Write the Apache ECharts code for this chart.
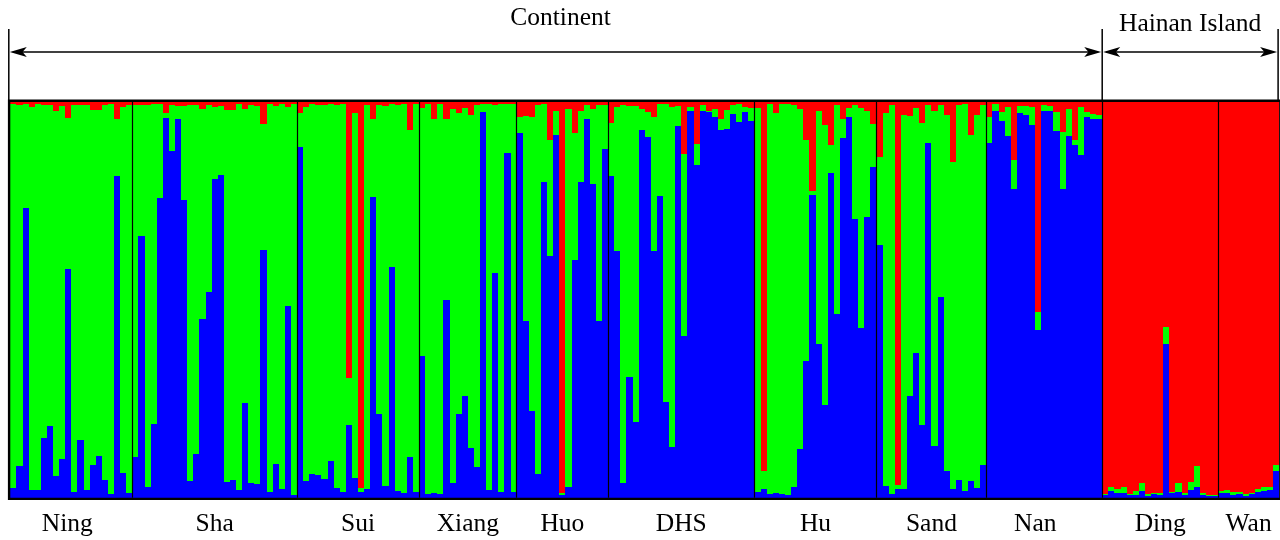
<!DOCTYPE html>
<html><head><meta charset="utf-8">
<script src="https://cdn.jsdelivr.net/npm/echarts@6/dist/echarts.min.js"></script>
<style>html,body{margin:0;padding:0;background:#fff}#c{width:1280px;height:540px}</style>
</head><body><div id="c"></div>
<script>
// ---------- DATA ----------
const populations = ['Ning','Sha','Sui','Xiang','Huo','DHS','Hu','Sand','Nan','Ding','Wan'];
const popSizes    = [20, 27, 20, 16, 15, 24, 20, 18, 19, 19, 10];
const regions     = ['Continent', 'Hainan Island'];
const regionPops  = [9, 2]; // number of populations in each region

// membership (%) in cluster 1 (blue), per individual
const blue = [
  2.5,8.0,73.1,1.9,1.9,15.1,18.1,5.5,9.7,57.7,1.4,14.7,1.9,8.2,10.5,4.5,0.9,81.3,6.3,1.3,
  10.4,66.1,2.8,18.6,75.7,96.0,87.5,95.7,75.2,4.2,11.1,45.2,52.0,80.5,81.5,4.0,4.5,1.9,23.9,3.7,3.5,62.6,1.4,8.5,2.2,48.4,0.7,
  88.6,4.2,6.0,5.7,4.7,9.3,2.4,1.4,18.4,5.1,1.4,2.1,76.0,21.1,2.9,58.3,1.7,1.2,10.3,1.4,
  35.8,0.9,1.2,0.9,50.0,3.7,21.1,25.7,12.6,7.8,97.5,1.9,56.8,1.4,87.1,1.4,
  92.2,44.7,21.9,6.0,79.8,61.1,91.7,0.7,2.8,60.1,79.8,95.7,79.3,44.7,88.1,
  81.3,62.3,3.7,30.5,19.1,92.9,91.2,62.3,76.2,24.2,12.8,93.9,40.9,97.7,84.1,97.7,97.5,96.2,92.9,93.2,97.0,94.9,97.5,95.2,
  1.4,2.1,0.9,1.2,0.9,0.7,2.7,12.3,34.5,76.5,38.8,23.4,82.1,46.4,90.9,96.2,70.4,42.9,70.9,83.6,
  63.9,2.9,0.9,2.2,2.2,25.7,36.6,18.4,89.6,13.1,50.7,6.7,2.2,4.5,1.7,4.2,2.4,8.3,
  89.6,97.7,95.2,91.4,78.0,97.2,96.7,94.2,42.4,97.7,97.7,92.7,78.0,91.4,89.1,86.6,96.2,95.7,95.7,
  0.8,1.7,1.2,1.2,0.7,0.7,1.7,0.4,0.9,0.7,38.8,1.2,1.4,0.7,1.9,2.7,0.7,0.4,0.5,
  1.2,1.2,0.7,0.9,0.4,0.9,1.4,1.7,1.9,6.7
];
// membership (%) in cluster 2 (green)
const green = [
  97.0,91.2,26.4,96.9,97.6,84.1,81.1,92.2,89.3,38.3,97.8,84.5,97.3,89.9,87.6,94.7,98.6,14.5,92.4,97.9,
  88.8,33.1,96.4,80.9,23.8,1.3,11.7,3.3,23.8,95.0,88.1,53.1,47.2,18.3,17.5,94.1,93.6,97.6,74.4,95.5,95.5,31.9,98.1,90.5,97.3,50.3,98.8,
  8.5,94.5,93.5,93.5,94.5,90.2,96.8,98.1,11.9,92.2,1.1,97.1,19.8,78.1,96.1,41.2,97.5,98.3,82.7,98.1,
  62.8,98.6,94.6,98.6,45.8,94.6,76.0,72.9,84.2,91.4,2.0,97.6,42.4,98.1,12.4,98.1,
  4.1,51.8,74.4,93.2,19.7,29.4,6.0,0.6,95.4,32.1,17.9,3.5,18.9,54.5,11.1,
  13.4,36.4,95.5,68.5,79.9,5.3,6.3,33.9,23.3,75.3,85.9,5.1,46.0,1.0,5.3,1.5,0.2,2.0,2.8,4.8,2.2,4.6,1.2,3.4,
  97.1,4.6,98.6,96.0,98.6,98.8,96.5,85.9,55.9,1.0,58.9,70.8,7.0,52.8,4.8,2.3,28.8,55.6,26.8,10.8,
  22.2,94.3,98.3,1.0,94.5,70.8,61.9,76.3,9.6,84.6,48.5,90.0,82.6,94.7,97.8,87.5,94.3,90.9,
  6.6,1.8,2.3,7.3,7.3,1.8,2.3,4.5,4.5,1.5,1.3,4.8,14.4,6.8,1.3,12.1,1.3,1.3,1.0,
  0.2,1.0,1.0,1.5,0.3,1.0,2.0,0.6,0.3,0.5,4.3,0.2,2.3,0.5,2.1,5.3,0.5,0.3,0.3,
  0.5,0.7,0.7,0.5,0.5,0.3,0.8,1.0,0.8,1.6
];
// membership (%) in cluster 3 (red)
const red = [
  0.5,0.8,0.5,1.2,0.5,0.8,0.8,2.3,1.0,4.0,0.8,0.8,0.8,1.9,1.9,0.8,0.5,4.2,1.3,0.8,
  0.8,0.8,0.8,0.5,0.5,2.7,0.8,1.0,1.0,0.8,0.8,1.7,0.8,1.2,1.0,1.9,1.9,0.5,1.7,0.8,1.0,5.5,0.5,1.0,0.5,1.3,0.5,
  2.9,1.3,0.5,0.8,0.8,0.5,0.8,0.5,69.7,2.7,97.5,0.8,4.2,0.8,1.0,0.5,0.8,0.5,7.0,0.5,
  1.4,0.5,4.2,0.5,4.2,1.7,2.9,1.4,3.2,0.8,0.5,0.5,0.8,0.5,0.5,0.5,
  3.7,3.5,3.7,0.8,0.5,9.5,2.3,98.7,1.8,7.8,2.3,0.8,1.8,0.8,0.8,
  5.3,1.3,0.8,1.0,1.0,1.8,2.5,3.8,0.5,0.5,1.3,1.0,13.1,1.3,10.6,0.8,2.3,1.8,4.3,2.0,0.8,0.5,1.3,1.4,
  1.5,93.3,0.5,2.8,0.5,0.5,0.8,1.8,9.6,22.5,2.3,5.8,10.9,0.8,4.3,1.5,0.8,1.5,2.3,5.6,
  13.9,2.8,0.8,96.8,3.3,3.5,1.5,5.3,0.8,2.3,0.8,3.3,15.2,0.8,0.5,8.3,3.3,0.8,
  3.8,0.5,2.5,1.3,14.7,1.0,1.0,1.3,53.1,0.8,1.0,2.5,7.6,1.8,9.6,1.3,2.5,3.0,3.3,
  99.0,97.3,97.8,97.3,99.0,98.3,96.3,99.0,98.8,98.8,56.9,98.6,96.3,98.8,96.0,92.0,98.8,99.3,99.2,
  98.3,98.1,98.6,98.6,99.1,98.8,97.8,97.3,97.3,91.7
];

// ---------- LAYOUT / STYLE ----------
(function () {
const FONT = '"Liberation Serif", "Times New Roman", serif';
const FS = 25.5;
const COLORS = ['#0000ff', '#00ff00', '#ff0000'];
const labelShift = {Ning: -4, Nan: -9};
const N = blue.length;
const individuals = blue.map((_, i) => 'ind' + (i + 1));
const starts = []; let acc = 0;
popSizes.forEach(s => { starts.push(acc); acc += s; });
const innerBounds = starts.slice(1);
const qData = blue.map((b, i) => [i, b, green[i], red[i]]);
const snap = v => Math.round(Math.round(v * 100) / 100);

// stacked membership bars, edges snapped to whole pixels (no seams)
function renderItem(params, api) {
  const i = api.value(0);
  const vals = [api.value(1), api.value(2), api.value(3)];
  const base = api.coord([i, 0]);
  const bw = api.size([1, 0])[0];
  const xl = snap(base[0] - bw / 2), xr = snap(base[0] + bw / 2);
  let cum = 0, yPrev = snap(base[1]);
  const children = [];
  vals.forEach((v, k) => {
    cum += v;
    const y = snap(api.coord([i, cum])[1]);
    if (yPrev - y > 0) {
      children.push({type: 'rect', shape: {x: xl, y: y, width: xr - xl, height: yPrev - y},
        style: {fill: COLORS[k]}});
    }
    yPrev = y;
  });
  return {type: 'group', children};
}

const chart = echarts.init(document.getElementById('c'));
chart.setOption({
  animation: false,
  grid: {left: 10.3, right: 0.9, top: 102, bottom: 42.3},
  xAxis: [
    {type: 'category', data: individuals, show: false},
    {type: 'value', min: 0, max: N, show: false}
  ],
  yAxis: {type: 'value', min: 0, max: 100, show: false},
  series: [
    {type: 'custom', name: 'Q', data: qData, renderItem, encode: {x: 0, y: 1}, silent: true},
    {
      type: 'line', xAxisIndex: 1, yAxisIndex: 0, data: [[0, 0]], z: 10,
      symbol: 'none', lineStyle: {opacity: 0}, silent: true,
      markLine: {
        silent: true, symbol: 'none', label: {show: false},
        lineStyle: {color: '#000', width: 1.2, type: 'solid'},
        data: innerBounds.map(b => ({xAxis: b}))
      }
    }
  ]
});

// ---------- ANNOTATIONS (positions derived from axes) ----------
const px = v => chart.convertToPixel({xAxisIndex: 1}, v);
const py = v => chart.convertToPixel({yAxisIndex: 0}, v);
const topY = py(100), botY = py(0);
const g = [];
g.push({type: 'rect', z: 20, silent: true,
  shape: {x: px(0) - 1.2, y: topY - 1.2, width: px(N) - px(0) + 2.4, height: botY - topY + 2.4},
  style: {fill: 'none', stroke: '#000', lineWidth: 2.4}});
populations.forEach((p, i) => {
  const c = starts[i] + popSizes[i] / 2;
  g.push({type: 'text', z: 20, silent: true, x: px(c) + (labelShift[p] || 0), y: 524,
    style: {text: p, font: FS + 'px ' + FONT, fill: '#000', align: 'center', verticalAlign: 'middle'}});
});
const arrowY = 52, tickTop = 29;
let popIdx = 0;
const regionX = [];
regionPops.forEach(n => {
  const s = starts[popIdx];
  const e = popIdx + n < popSizes.length ? starts[popIdx + n] : N;
  regionX.push([px(s), px(e)]);
  popIdx += n;
});
const lineXs = [regionX[0][0] - 1.5, regionX[1][0], regionX[1][1] - 1];
lineXs.forEach(x => g.push({type: 'line', z: 20, silent: true,
  shape: {x1: x, y1: tickTop, x2: x, y2: topY}, style: {stroke: '#000', lineWidth: 1.5}}));
function arrow(x1, x2) {
  const L = 17, H = 5;
  g.push({type: 'line', z: 20, silent: true, shape: {x1: x1 + 4, y1: arrowY, x2: x2 - 4, y2: arrowY},
    style: {stroke: '#000', lineWidth: 1.5}});
  g.push({type: 'polygon', z: 20, silent: true,
    shape: {points: [[x1 + 1, arrowY], [x1 + 1 + L, arrowY - H], [x1 + 1 + L * 0.75, arrowY], [x1 + 1 + L, arrowY + H]]},
    style: {fill: '#000'}});
  g.push({type: 'polygon', z: 20, silent: true,
    shape: {points: [[x2 - 1, arrowY], [x2 - 1 - L, arrowY - H], [x2 - 1 - L * 0.75, arrowY], [x2 - 1 - L, arrowY + H]]},
    style: {fill: '#000'}});
}
arrow(lineXs[0], lineXs[1]);
arrow(lineXs[1], lineXs[2]);
const regionTextY = [18, 24];
regions.forEach((r, i) => {
  g.push({type: 'text', z: 20, silent: true, x: (lineXs[i] + lineXs[i + 1]) / 2 + (i === 0 ? 5 : 0), y: regionTextY[i],
    style: {text: r, font: FS + 'px ' + FONT, fill: '#000', align: 'center', verticalAlign: 'middle'}});
});
chart.setOption({graphic: {elements: g}});
})();
</script>
</body></html>
